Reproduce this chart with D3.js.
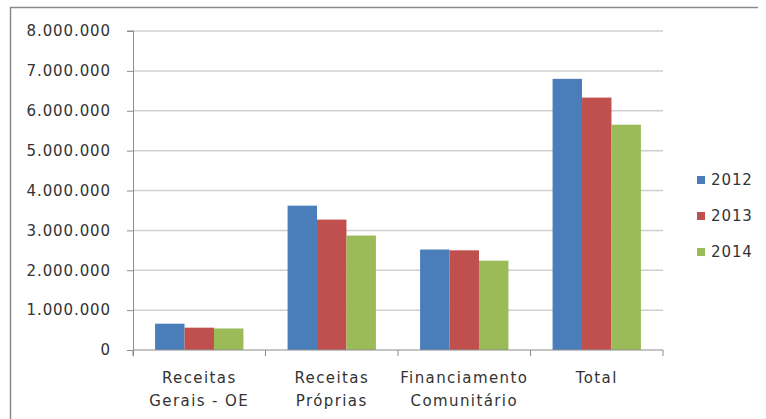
<!DOCTYPE html>
<html>
<head>
<meta charset="utf-8">
<script src="https://cdn.jsdelivr.net/npm/d3@7"></script>
<style>
  body { margin: 0; background: #fff; }
  text { font-family: "DejaVu Sans", sans-serif; fill: #333; }
</style>
</head>
<body>
<div id="chart"></div>
<script>
// data
var categories = [["Receitas", "Gerais - OE"], ["Receitas", "Próprias"], ["Financiamento", "Comunitário"], ["Total"]];
var years = ["2012", "2013", "2014"];
var values2012 = [660000, 3620000, 2520000, 6800000];
var values2013 = [560000, 3270000, 2500000, 6330000];
var values2014 = [540000, 2870000, 2240000, 5650000];
var yTicks = [0, 1000000, 2000000, 3000000, 4000000, 5000000, 6000000, 7000000, 8000000];
var colors = ["#4a7ebb", "#c0504d", "#9bbb59"];

var series = [values2012, values2013, values2014];

var W = 766, H = 419;
var margin = { top: 31, left: 133, right: 103, bottom: 69 };
var width = W - margin.left - margin.right,
    height = H - margin.top - margin.bottom;

var svg = d3.select("#chart").append("svg")
    .attr("width", W)
    .attr("height", H);

// outer chart frame (left and top edges visible)
svg.append("path")
    .attr("d", "M10.5," + H + "V7.5H758")
    .attr("fill", "none")
    .attr("stroke", "#8a8a8a")
    .attr("stroke-width", 1.5);

var g = svg.append("g")
    .attr("transform", "translate(" + margin.left + "," + margin.top + ")");

var x0 = d3.scaleBand()
    .domain(d3.range(categories.length))
    .range([0, width]);

var x1 = d3.scaleBand()
    .domain(d3.range(years.length))
    .range([0, x0.bandwidth()])
    .paddingOuter(0.75)
    .paddingInner(0);

var y = d3.scaleLinear()
    .domain([0, 8000000])
    .range([height, 0]);

// gridlines
g.append("g")
    .selectAll("line")
    .data(yTicks.slice(1))
    .enter()
    .append("line")
    .attr("x1", 0)
    .attr("x2", width)
    .attr("y1", function (d) { return y(d); })
    .attr("y2", function (d) { return y(d); })
    .attr("stroke", "#cfcfcf")
    .attr("stroke-width", 1.5);

// bars
series.forEach(function (vals, s) {
    g.append("g")
        .selectAll("rect")
        .data(vals)
        .enter()
        .append("rect")
        .attr("x", function (d, i) { return x0(i) + x1(s); })
        .attr("width", x1.bandwidth())
        .attr("y", function (d) { return y(d); })
        .attr("height", function (d) { return height - y(d); })
        .attr("fill", colors[s]);
});

// y axis
var yAxis = g.append("g")
    .call(d3.axisLeft(y)
        .tickValues(yTicks)
        .tickSize(6)
        .tickPadding(16)
        .tickFormat(function (d) { return d3.format(",")(d).replace(/,/g, "."); }));
yAxis.select(".domain").attr("stroke", "#8c8c8c").attr("d", "M-6,0H0.5V" + (height + 6));
yAxis.selectAll(".tick line").attr("stroke", "#8c8c8c").attr("x2", -6);
yAxis.selectAll(".tick text")
    .style("font-size", "15px")
    .style("letter-spacing", "0.9px")
    .attr("fill", "#333");

// x axis line and category ticks
var xAxis = g.append("g")
    .attr("transform", "translate(0," + height + ")");
xAxis.append("line")
    .attr("x1", 0).attr("x2", width)
    .attr("stroke", "#8c8c8c");
xAxis.selectAll(".ctick")
    .data(d3.range(categories.length + 1))
    .enter()
    .append("line")
    .attr("x1", function (d) { return d * x0.step(); })
    .attr("x2", function (d) { return d * x0.step(); })
    .attr("y1", 0).attr("y2", 6)
    .attr("stroke", "#8c8c8c");

// category labels
xAxis.selectAll(".clabel")
    .data(categories)
    .enter()
    .append("text")
    .attr("text-anchor", "middle")
    .style("font-size", "15px")
    .style("letter-spacing", "1.4px")
    .attr("x", function (d, i) { return x0(i) + x0.bandwidth() / 2; })
    .attr("y", 33)
    .each(function (d) {
        var t = d3.select(this);
        d.forEach(function (line, k) {
            t.append("tspan")
                .attr("x", t.attr("x"))
                .attr("dy", k === 0 ? 0 : 23)
                .text(line);
        });
    });

// legend
var legend = svg.append("g")
    .selectAll("g")
    .data(years)
    .enter()
    .append("g")
    .attr("transform", function (d, i) { return "translate(697," + (180 + i * 36) + ")"; });
legend.append("rect")
    .attr("x", 0).attr("y", -4)
    .attr("width", 8).attr("height", 8)
    .attr("fill", function (d, i) { return colors[i]; });
legend.append("text")
    .attr("x", 14)
    .attr("dy", "0.35em")
    .style("font-size", "15px")
    .style("letter-spacing", "0.9px")
    .text(function (d) { return d; });
</script>
</body>
</html>
